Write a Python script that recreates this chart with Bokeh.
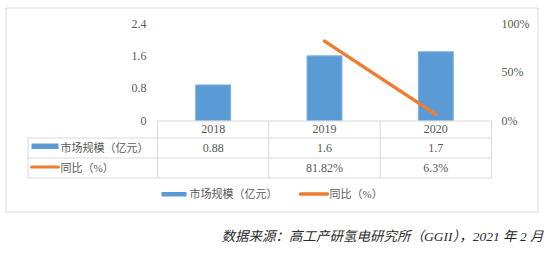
from bokeh.plotting import figure
from bokeh.models import Range1d
from bokeh.core.properties import value
from bokeh.embed import file_html
from bokeh.resources import INLINE

# ---- data ----
years = ["2018", "2019", "2020"]
market_size = [0.88, 1.6, 1.7]          # 亿元
yoy_pct = [None, 81.82, 6.3]            # %
left_ticks = [0, 0.8, 1.6, 2.4]
left_tick_labels = ["0", "0.8", "1.6", "2.4"]
right_ticks = [0, 0.5, 1.0]
right_tick_labels = ["0%", "50%", "100%"]
series_names = ["市场规模（亿元）", "同比（%）"]
source_text = "数据来源：高工产研氢电研究所（GGII），2021 年 2 月"

BLUE = "#5b9bd5"
ORANGE = "#ed7d31"
GRID = "#d9d9d9"
TXT = "#595959"
FONT = "Liberation Serif, Noto Sans CJK SC"

W, H = 554, 253
FL, FR, FT, FB = 157, 491, 23, 120   # plot-area edges in pixels
YMAX = 2.4

def dx(px):
    return (px - FL) / (FR - FL) * 3.0
def dy(py):
    return (FB - py) / (FB - FT) * YMAX

p = figure(width=W, height=H, output_backend="svg", toolbar_location=None,
           x_range=Range1d(dx(0), dx(W)), y_range=Range1d(dy(H), dy(0)),
           min_border=0)
p.axis.visible = False
p.grid.visible = False
p.outline_line_color = None
p.background_fill_color = "white"
p.border_fill_color = "white"
p.extra_y_ranges = {"pct": Range1d(dy(H) / YMAX, dy(0) / YMAX)}

def seg(x0, y0, x1, y1, color=GRID, width=1, cap="butt"):
    p.segment(x0=[dx(x0)], y0=[dy(y0)], x1=[dx(x1)], y1=[dy(y1)],
              line_color=color, line_width=width, line_cap=cap)

def txt(px, py, s, align="center", size="12px", color=TXT, style="normal"):
    p.text(x=[dx(px)], y=[dy(py)], text=[s], text_align=align, text_baseline="middle",
           text_font=value(FONT), text_font_size=size, text_color=color,
           text_font_style=style)

def box(l, t, r, b, fill=None, line=None):
    p.quad(left=[dx(l)], right=[dx(r)], top=[dy(t)], bottom=[dy(b)],
           fill_color=fill, fill_alpha=1 if fill else 0,
           line_color=line, line_alpha=1 if line else 0, line_width=1)

# outer chart border
box(5.5, 7.5, 537.5, 211.5, line=GRID)

# axes tick labels (left: 亿元, right: %)
p.text(x=[dx(146)] * len(left_ticks), y=left_ticks, text=left_tick_labels,
       text_align="right", text_baseline="middle", text_font=value(FONT),
       text_font_size="12px", text_color=TXT)
p.text(x=[dx(501)] * len(right_ticks), y=right_ticks, text=right_tick_labels,
       y_range_name="pct", text_align="left", text_baseline="middle",
       text_font=value(FONT), text_font_size="12px", text_color=TXT)

# bars and line
xs = [i + 0.5 for i in range(len(years))]
p.vbar(x=xs, top=market_size, width=0.314, bottom=0,
       fill_color=BLUE, line_color="#7fb0e0", line_width=1)
lx = [x for x, v in zip(xs, yoy_pct) if v is not None]
ly = [v / 100 for v in yoy_pct if v is not None]
p.line(lx, ly, y_range_name="pct", line_color=ORANGE, line_width=3.5, line_cap="round")

# data table grid
col_edges = [FL + i * (FR - FL) / 3 for i in range(4)]
seg(FL, 120.5, FR, 120.5)
for yy in (137.5, 157.5, 177.5):
    seg(27, yy, FR, yy)
seg(27.5, 137.5, 27.5, 177.5)
for cx in col_edges:
    seg(cx, 120.5, cx, 177.5)

# header row
for i, yr in enumerate(years):
    txt((col_edges[i] + col_edges[i + 1]) / 2, 128.5, yr)

# row 1: market size
box(31, 143, 58, 148.5, fill=BLUE)
txt(60, 147, series_names[0], align="left", size="11px")
for i, v in enumerate(market_size):
    txt((col_edges[i] + col_edges[i + 1]) / 2, 147, f"{v:g}")

# row 2: yoy
seg(31, 166.5, 58, 166.5, color=ORANGE, width=3, cap="round")
txt(60, 167, series_names[1], align="left", size="11px")
for i, v in enumerate(yoy_pct):
    if v is not None:
        txt((col_edges[i] + col_edges[i + 1]) / 2, 167, f"{v:g}%")

# bottom legend
box(161, 191.5, 186, 196, fill=BLUE)
txt(189, 193.5, series_names[0], align="left", size="11px")
seg(300, 193.5, 327, 193.5, color=ORANGE, width=3.5, cap="round")
txt(329, 193.5, series_names[1], align="left", size="11px")

# source note
txt(543, 235.5, source_text, align="right", size="13.5px", color="#2b2b2b",
    style="italic")

open("out.html", "w").write(file_html(p, INLINE))
